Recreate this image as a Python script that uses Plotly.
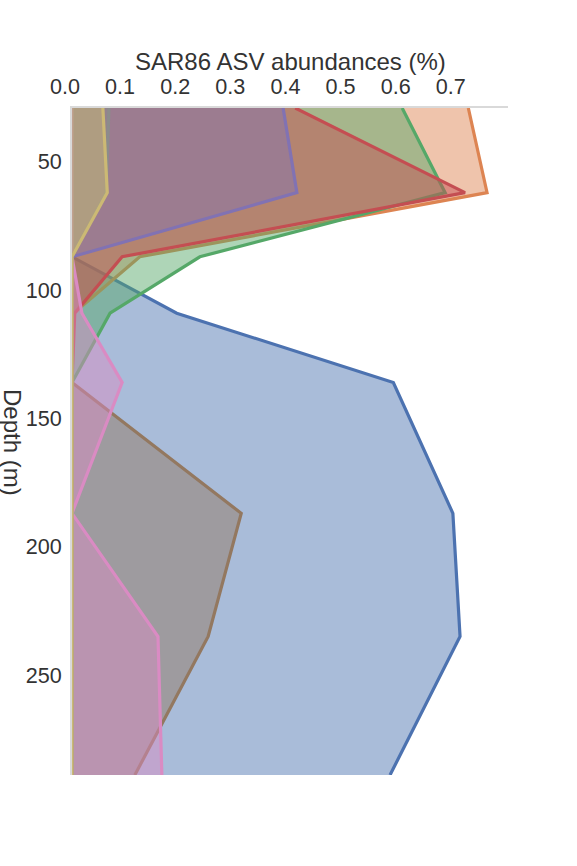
import plotly.graph_objects as go

# Depths (m) of the sampled points
depths = [29, 62, 87, 109, 136, 187, 235, 289]

# Abundance (%) per ASV at each depth
asv_blue   = [0.0,   0.0,   0.0,   0.190, 0.583, 0.691, 0.704, 0.577]
asv_orange = [0.719, 0.753, 0.123, 0.003, 0.0,   0.0,   0.0,   0.0]
asv_green  = [0.599, 0.677, 0.232, 0.069, 0.0,   0.0,   0.0,   0.0]
asv_red    = [0.405, 0.713, 0.091, 0.005, 0.0,   0.0,   0.0,   0.0]
asv_purple = [0.383, 0.408, 0.0,   0.0,   0.0,   0.0,   0.0,   0.0]
asv_brown  = [0.0,   0.0,   0.0,   0.0,   0.0,   0.307, 0.247, 0.114]
asv_pink   = [0.0,   0.0,   0.0,   0.018, 0.091, 0.0,   0.156, 0.163]
asv_gray   = [0.067, 0.062, 0.0,   0.0,   0.0,   0.0,   0.0,   0.0]
asv_olive  = [0.056, 0.064, 0.0,   0.0,   0.0,   0.0,   0.0,   0.0]

x_ticks = [0.0, 0.1, 0.2, 0.3, 0.4, 0.5, 0.6, 0.7]
y_ticks = [50, 100, 150, 200, 250]

series = [
    (asv_blue,   (76, 114, 176)),
    (asv_orange, (221, 132, 82)),
    (asv_green,  (85, 168, 104)),
    (asv_red,    (196, 78, 82)),
    (asv_purple, (129, 114, 179)),
    (asv_brown,  (147, 120, 96)),
    (asv_pink,   (218, 139, 195)),
    (asv_gray,   (140, 140, 140)),
    (asv_olive,  (204, 185, 116)),
]

fig = go.Figure()
for vals, (r, g, b) in series:
    fig.add_trace(go.Scatter(
        x=vals, y=depths, mode="lines", fill="tozerox",
        line=dict(color=f"rgb({r},{g},{b})", width=3.2),
        fillcolor=f"rgba({r},{g},{b},0.48)",
        showlegend=False, hoverinfo="skip",
    ))

font_family = "Liberation Sans, Arial, sans-serif"
fig.update_layout(
    width=577, height=866,
    margin=dict(l=72, r=69, t=108, b=91, autoexpand=False),
    paper_bgcolor="white", plot_bgcolor="white",
    font=dict(family=font_family, color="#333333"),
    xaxis=dict(
        side="top", range=[0, 0.791], tickvals=x_ticks,
        ticktext=[f"{v:.1f}" for v in x_ticks],
        showgrid=False, zeroline=False, automargin=False,
        showline=True, linecolor="#d9d9d9", linewidth=2,
        ticks="", tickfont=dict(size=21.6, color="#333333"),
        ticklabelshift=-7, ticklabelstandoff=3,
    ),
    yaxis=dict(
        range=[289, 29], tickvals=y_ticks,
        showgrid=False, zeroline=False, automargin=False,
        showline=True, linecolor="#d9d9d9", linewidth=2,
        ticks="", tickfont=dict(size=21.6, color="#333333"),
        ticklabelstandoff=4,
    ),
    annotations=[
        dict(text="SAR86 ASV abundances (%)", xref="paper", yref="paper",
             x=0.5, y=1.069, xanchor="center", yanchor="middle",
             showarrow=False, font=dict(size=24, color="#333333")),
        dict(text="Depth (m)", xref="paper", yref="paper",
             x=-0.138, y=0.498, xanchor="center", yanchor="middle",
             textangle=90, showarrow=False,
             font=dict(size=24, color="#333333")),
    ],
)

fig.write_html(
    "out.html",
    config={"displayModeBar": False, "staticPlot": True},
    post_script="document.body.style.margin='0';document.body.style.overflow='hidden';",
)
